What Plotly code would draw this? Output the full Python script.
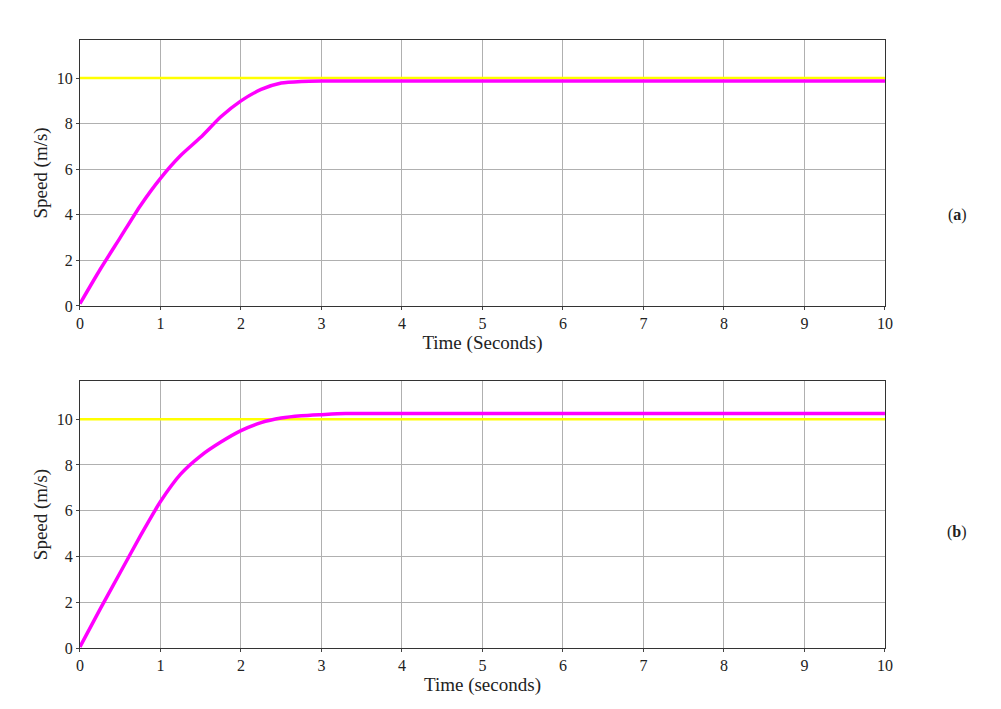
import plotly.graph_objects as go

t_a = [0, 0.25, 0.5, 0.75, 1.0, 1.25, 1.5, 1.75, 2.0, 2.25, 2.5, 2.75, 3.0, 10]
speed_a = [0.1, 1.6, 3.0, 4.4, 5.6, 6.6, 7.4, 8.3, 9.0, 9.5, 9.78, 9.85, 9.87, 9.87]
t_b = [0, 0.25, 0.5, 0.75, 1.0, 1.25, 1.5, 1.75, 2.0, 2.25, 2.5, 2.75, 3.0, 3.3, 10]
speed_b = [0.05, 1.7, 3.3, 4.9, 6.4, 7.6, 8.4, 9.0, 9.5, 9.85, 10.05, 10.15, 10.2, 10.25, 10.25]
ref_t = [0, 10]
ref_speed = [10, 10]

font = "Liberation Serif, Times New Roman, serif"
fig = go.Figure()
for t, s, ax in [(t_a, speed_a, ""), (t_b, speed_b, "2")]:
    fig.add_trace(go.Scatter(x=ref_t, y=ref_speed, mode="lines", line=dict(color="#ffff00", width=2.5),
                             xaxis="x" + ax, yaxis="y" + ax, showlegend=False))
    fig.add_trace(go.Scatter(x=t, y=s, mode="lines",
                             line=dict(color="#ff00ff", width=3.5, shape="spline", smoothing=0.6),
                             xaxis="x" + ax, yaxis="y" + ax, showlegend=False))

axis_common = dict(showgrid=True, gridcolor="#b0b0b0", gridwidth=1, showline=True, linecolor="#333",
                   mirror=True, ticks="outside", ticklen=3, zeroline=False, automargin=False,
                   tickfont=dict(family=font, size=16, color="#222"))
fig.update_layout(
    width=1001, height=709, margin=dict(l=0, r=0, t=0, b=0),
    plot_bgcolor="white", paper_bgcolor="white",
    font=dict(family=font, color="#222"),
    xaxis=dict(domain=[0.0719, 0.8761], anchor="y", range=[0, 10], dtick=1,
               title=dict(text="Time (Seconds)", font=dict(size=19), standoff=2), **axis_common),
    yaxis=dict(domain=[0.5797, 0.9549], anchor="x", range=[0, 11.67], dtick=2,
               title=dict(text="Speed (m/s)", font=dict(size=19), standoff=4), **axis_common),
    xaxis2=dict(domain=[0.0719, 0.8761], anchor="y2", range=[0, 10], dtick=1,
                title=dict(text="Time (seconds)", font=dict(size=19), standoff=2), **axis_common),
    yaxis2=dict(domain=[0.0973, 0.4739], anchor="x2", range=[0, 11.67], dtick=2,
                title=dict(text="Speed (m/s)", font=dict(size=19), standoff=4), **axis_common),
    annotations=[
        dict(text="(<b>a</b>)", x=0.96, y=1 - 196 / 709, xref="paper", yref="paper", showarrow=False,
             font=dict(family=font, size=16)),
        dict(text="(<b>b</b>)", x=0.96, y=1 - 535 / 709, xref="paper", yref="paper", showarrow=False,
             font=dict(family=font, size=16)),
    ],
)
fig.write_html("out.html")
